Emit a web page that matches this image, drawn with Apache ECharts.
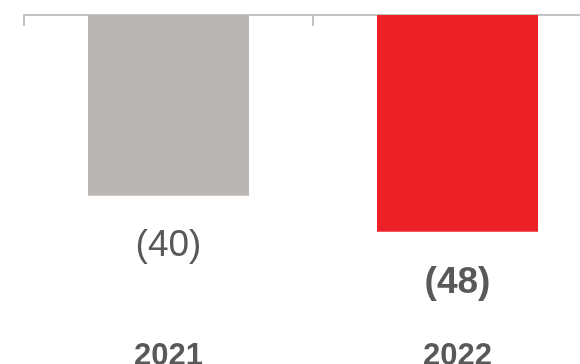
<!DOCTYPE html>
<html>
<head>
<meta charset="utf-8">
<style>
html,body{margin:0;padding:0;background:#fff;}
#c{width:580px;height:364px;}
</style>
<script src="https://cdn.jsdelivr.net/npm/echarts@6/dist/echarts.min.js"></script>
</head>
<body>
<div id="c"></div>
<script>
var categories = ['2021', '2022'];
var values = [-40, -48];
var barColors = ['#bab6b3', '#ed1f27'];
var labelBold = [false, true];

var chart = echarts.init(document.getElementById('c'), null, {renderer: 'canvas'});
var data = values.map(function (v, i) {
  return {
    value: v,
    itemStyle: {color: barColors[i]},
    label: {fontWeight: labelBold[i] ? 'bold' : 'normal'}
  };
});
chart.setOption({
  animation: false,
  grid: {left: 24, width: 578, top: 15, height: 271, outerBoundsMode: 'none', containLabel: false},
  xAxis: [{
    type: 'category',
    data: categories,
    position: 'top',
    axisLine: {show: true, lineStyle: {color: '#c3c3c3', width: 2}},
    axisTick: {show: true, inside: true, length: 11, lineStyle: {color: '#c3c3c3', width: 2}},
    axisLabel: {show: false}
  }, {
    type: 'category',
    data: categories,
    position: 'bottom',
    axisLine: {show: false},
    axisTick: {show: false},
    axisLabel: {show: true, margin: 55, color: '#595959', fontFamily: 'Liberation Sans, Arial, sans-serif', fontWeight: 'bold', fontSize: 31}
  }],
  yAxis: {type: 'value', min: -60, max: 0, show: false, splitLine: {show: false}},
  series: [{
    type: 'bar',
    data: data,
    barWidth: 161,
    label: {
      show: true,
      position: 'bottom',
      distance: 32,
      color: '#595959',
      fontFamily: 'Liberation Sans, Arial, sans-serif',
      fontSize: 37,
      formatter: function (p) { return '(' + Math.abs(p.value) + ')'; }
    }
  }]
});
</script>
</body>
</html>
